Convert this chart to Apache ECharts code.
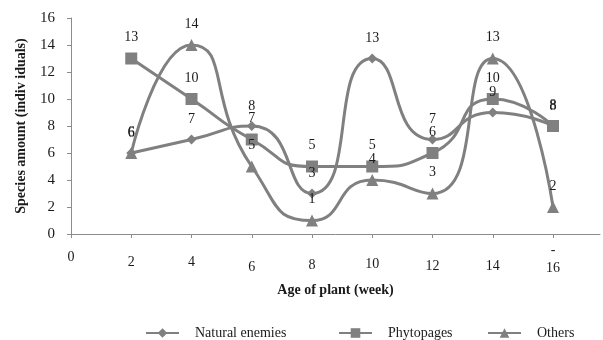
<!DOCTYPE html>
<html><head><meta charset="utf-8">
<script src="https://cdn.jsdelivr.net/npm/echarts@6/dist/echarts.min.js"></script>
<style>html,body{margin:0;padding:0;background:#fff}#c{width:603px;height:340px}</style>
</head><body><div id="c"></div>
<script>
const weeks = [2, 4, 6, 8, 10, 12, 14, 16];
const naturalEnemies = [6, 7, 8, 3, 13, 7, 9, 8];
const phytopages = [13, 10, 7, 5, 5, 6, 10, 8];
const others = [6, 14, 5, 1, 4, 3, 13, 2];
const xTickLabels = [0, 2, 4, 6, 8, 10, 12, 14, 16];
const seriesNames = ['Natural enemies', 'Phytopages', 'Others'];

const FONT = 'Liberation Serif';
const GRAY = '#808080';
const AXIS = '#8c8c8c';
const TXT = '#1a1a1a';

// layout only: per-label line heights reproducing the slightly staggered x labels
const xLabelLineHeights = { 0: 26, 2: 36, 4: 36, 6: 46, 8: 42, 10: 40, 12: 44, 14: 44 };

function pairs(vals) { return weeks.map((w, i) => [w, vals[i]]); }

const symbols = [
  { symbol: 'diamond', size: 10 },
  { symbol: 'rect', size: 12 },
  { symbol: 'triangle', size: 12 }
];
const values = [naturalEnemies, phytopages, others];

const rich = { dash: { lineHeight: 12, fontFamily: FONT, fontSize: 14, color: TXT },
               last: { lineHeight: 24, fontFamily: FONT, fontSize: 14, color: TXT } };
Object.keys(xLabelLineHeights).forEach(k => {
  rich['l' + k] = { lineHeight: xLabelLineHeights[k], fontFamily: FONT, fontSize: 14, color: TXT };
});

const chart = echarts.init(document.getElementById('c'), null, { renderer: 'canvas' });
const legendLefts = [145, 338, 487];
chart.setOption({
  animation: false,
  backgroundColor: '#fff',
  grid: { left: 71, right: 3, top: 18, bottom: 106, containLabel: false },
  legend: seriesNames.map((n, i) => ({
    data: [n],
    left: legendLefts[i],
    top: 326,
    itemWidth: 33,
    itemHeight: 12,
    padding: 0,
    textStyle: { fontFamily: FONT, fontSize: 14, color: TXT, padding: [0, 0, 0, 11] }
  })),
  xAxis: {
    type: 'value', min: 0, max: 17.56,
    name: 'Age of plant (week)', nameLocation: 'middle', nameGap: 49,
    nameTextStyle: { fontFamily: FONT, fontSize: 14, fontWeight: 'bold', color: TXT },
    splitLine: { show: false },
    axisLine: { show: true, lineStyle: { color: AXIS, width: 1 } },
    axisTick: { show: true, length: 4, lineStyle: { color: AXIS }, customValues: xTickLabels },
    axisLabel: {
      customValues: xTickLabels, margin: 10, fontFamily: FONT, fontSize: 14, color: TXT,
      formatter: v => (v === xTickLabels[xTickLabels.length - 1]) ? '{dash|-}\n{last|' + v + '}' : '{l' + v + '|' + v + '}',
      rich: rich
    }
  },
  yAxis: {
    type: 'value', min: 0, max: 16, interval: 2,
    name: 'Species amount (indiv iduals)', nameLocation: 'middle', nameGap: 43,
    nameTextStyle: { fontFamily: FONT, fontSize: 14, fontWeight: 'bold', color: TXT },
    splitLine: { show: false },
    axisLine: { show: true, lineStyle: { color: AXIS, width: 1 } },
    axisTick: { show: true, length: 4, lineStyle: { color: AXIS } },
    axisLabel: { margin: 16, fontFamily: FONT, fontSize: 15, color: TXT }
  },
  series: seriesNames.map((n, i) => ({
    name: n, type: 'line', smooth: 0.6,
    data: pairs(values[i]),
    symbol: symbols[i].symbol, symbolSize: symbols[i].size,
    lineStyle: { color: GRAY, width: 3 },
    itemStyle: { color: GRAY },
    label: { show: true, position: 'top', distance: 8, fontFamily: FONT, fontSize: 14, color: TXT }
  }))
});
</script></body></html>
